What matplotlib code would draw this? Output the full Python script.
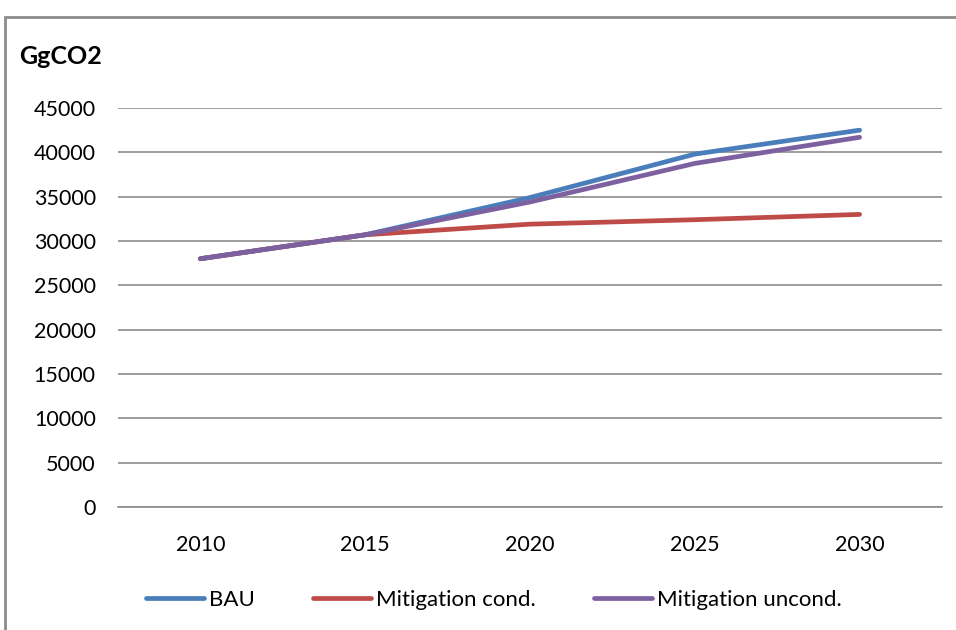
import matplotlib
matplotlib.use("Agg")
import matplotlib.pyplot as plt
from matplotlib.patches import Rectangle

years = ["2010", "2015", "2020", "2025", "2030"]
bau = [28000, 30700, 34900, 39800, 42500]
mit_cond = [28000, 30700, 31900, 32400, 33000]
mit_uncond = [28000, 30700, 34400, 38750, 41700]
y_ticks = list(range(0, 45001, 5000))

plt.rcParams['font.family'] = ['Lato', 'DejaVu Sans']

fig = plt.figure(figsize=(9.56, 6.30), dpi=100)
fig.patch.set_facecolor('white')
ax = fig.add_axes([118/956, 1-507/630, (942-118)/956, (507-108)/630])

# outer chart frame (partly cut off at right/bottom)
fig.patches.append(Rectangle((5/956, -0.2), 1.2, 1.2 - 17/630, transform=fig.transFigure,
                             fill=False, edgecolor='#8c8c8c', linewidth=2))

x = range(len(years))
ax.plot(x, bau, color='#4A7EBB', lw=3.4, solid_capstyle='round', label='BAU', zorder=3)
ax.plot(x, mit_cond, color='#BE4B48', lw=3.4, solid_capstyle='round', label='Mitigation cond.', zorder=3)
ax.plot(x, mit_uncond, color='#7D60A0', lw=3.4, solid_capstyle='round', label='Mitigation uncond.', zorder=4)

ax.set_xlim(-0.5, len(years) - 0.5)
ax.set_ylim(0, 45000)
ax.set_yticks(y_ticks)
ax.set_xticks(list(x))
ax.set_xticklabels(years)
ax.tick_params(length=0, labelsize=15.5, colors='black')
ax.tick_params(axis='y', pad=16)
ax.tick_params(axis='x', pad=20)
ax.grid(axis='y', color='#8c8c8c', lw=1.2, zorder=0)
for s in ['top', 'right', 'left']:
    ax.spines[s].set_visible(False)
ax.spines['bottom'].set_color('#8c8c8c')
ax.spines['bottom'].set_linewidth(1.2)
ax.set_axisbelow(True)

fig.text(19/956, 1-56/630, "GgCO2", fontsize=18, fontweight='bold', va='center', ha='left')

ax.legend(loc='center', bbox_to_anchor=(494/956, 1-600/630), bbox_transform=fig.transFigure,
          ncol=3, frameon=False, fontsize=16, handlelength=2.6, handletextpad=0.25,
          columnspacing=2.6)

fig.savefig("out.png", dpi=100)
